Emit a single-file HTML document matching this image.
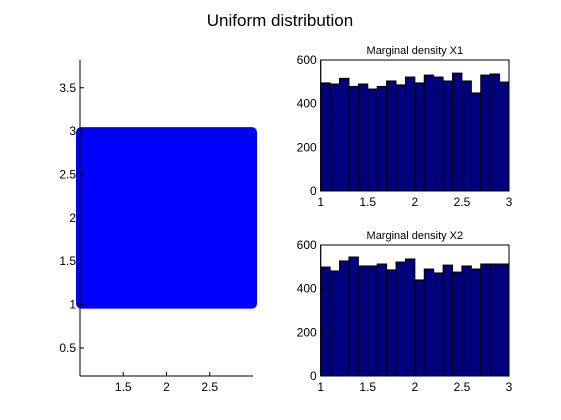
<!DOCTYPE html>
<html><head><meta charset="utf-8"><style>
body{margin:0;background:#fff}
svg{display:block;font-family:"Liberation Sans",sans-serif}
</style></head><body>
<svg id="fig" width="561" height="420" xmlns="http://www.w3.org/2000/svg">
<rect width="561" height="420" fill="#fff"/>
<text x="280" y="26" font-size="17" text-anchor="middle">Uniform distribution</text>
<g id="scatter"></g>
<g id="h1"></g>
<g id="h2"></g>
</svg>
<script>
const scatterXExtent=[1,3];
const scatterYExtent=[1,3];
const scatterXTicks=[1.5,2,2.5];
const scatterYTicks=[0.5,1,1.5,2,2.5,3,3.5];
const binEdges=[1,3];
const binCount=20;
const x1Counts=[495,490,516,479,490,467,479,504,486,522,495,531,522,504,540,504,449,531,536,499];
const x2Counts=[499,481,527,545,504,504,513,486,522,536,440,490,472,508,476,504,490,513,513,513];
const histXTicks=[1,1.5,2,2.5,3];
const histYTicks=[0,200,400,600];
const NS="http://www.w3.org/2000/svg";
function mk(p,t,a){const e=document.createElementNS(NS,t);for(const k in a)e.setAttribute(k,a[k]);p.appendChild(e);return e;}
// scatter
(function(){
 const g=document.getElementById('scatter');
 const L=80,R=253,T=60,B=376,xmin=1,xmax=3,ymin=0.177,ymax=3.82;
 const sx=v=>L+(v-xmin)/(xmax-xmin)*(R-L);
 const sy=v=>B-(v-ymin)/(ymax-ymin)*(B-T);
 const m=4;
 const r=mk(g,'rect',{x:sx(scatterXExtent[0])-m,y:sy(scatterYExtent[1])-m,width:sx(scatterXExtent[1])-sx(scatterXExtent[0])+2*m,height:sy(scatterYExtent[0])-sy(scatterYExtent[1])+2*m,rx:5,fill:'#0000ff'});
 
 
 mk(g,'line',{x1:L,y1:T,x2:L,y2:B,stroke:'#000'});
 mk(g,'line',{x1:L,y1:B,x2:R,y2:B,stroke:'#000'});
 scatterXTicks.forEach(v=>{const x=sx(v);mk(g,'line',{x1:x,y1:B,x2:x,y2:B-4,stroke:'#000'});
  const t=mk(g,'text',{x:x,y:B+15,'font-size':12,'text-anchor':'middle'});t.textContent=v;
  });
 scatterYTicks.forEach(v=>{const y=sy(v);mk(g,'line',{x1:L,y1:y,x2:L+4,y2:y,stroke:'#000'});
  const t=mk(g,'text',{x:L-4,y:y+4,'font-size':12,'text-anchor':'end'});t.textContent=v;
  });
})();
function hist(id,counts,T,B,title){
 const g=document.getElementById(id);
 const L=320.7,R=509,ymax=600;
 const sx=v=>L+(v-binEdges[0])/(binEdges[1]-binEdges[0])*(R-L);
 const sy=v=>B-v/ymax*(B-T);
 const w=(binEdges[1]-binEdges[0])/binCount;
 const tt=mk(g,'text',{x:(L+R)/2,y:T-6,'font-size':11,'text-anchor':'middle'});tt.textContent=title;
 
 mk(g,'rect',{x:L,y:T,width:R-L,height:B-T,fill:'#fff',stroke:'#000'});
 counts.forEach((c,i)=>{const x0=sx(binEdges[0]+i*w),x1=sx(binEdges[0]+(i+1)*w);
  const b=mk(g,'rect',{x:x0,y:sy(c),width:x1-x0,height:B-sy(c),fill:'#000080',stroke:'#000','stroke-width':1});
  });
 mk(g,'rect',{x:L,y:T,width:R-L,height:B-T,fill:'none',stroke:'#000'});
 histXTicks.forEach(v=>{const x=sx(v);
  const t=mk(g,'text',{x:x,y:B+15,'font-size':12,'text-anchor':'middle'});t.textContent=v;
  });
 histYTicks.forEach(v=>{const y=sy(v);mk(g,'line',{x1:L,y1:y,x2:L+4,y2:y,stroke:'#000'});
  const t=mk(g,'text',{x:L-4,y:y+4,'font-size':12,'text-anchor':'end'});t.textContent=v;
  });
}
hist('h1',x1Counts,60,191,'Marginal density X1');
hist('h2',x2Counts,245,376,'Marginal density X2');
</script>
</body></html>
